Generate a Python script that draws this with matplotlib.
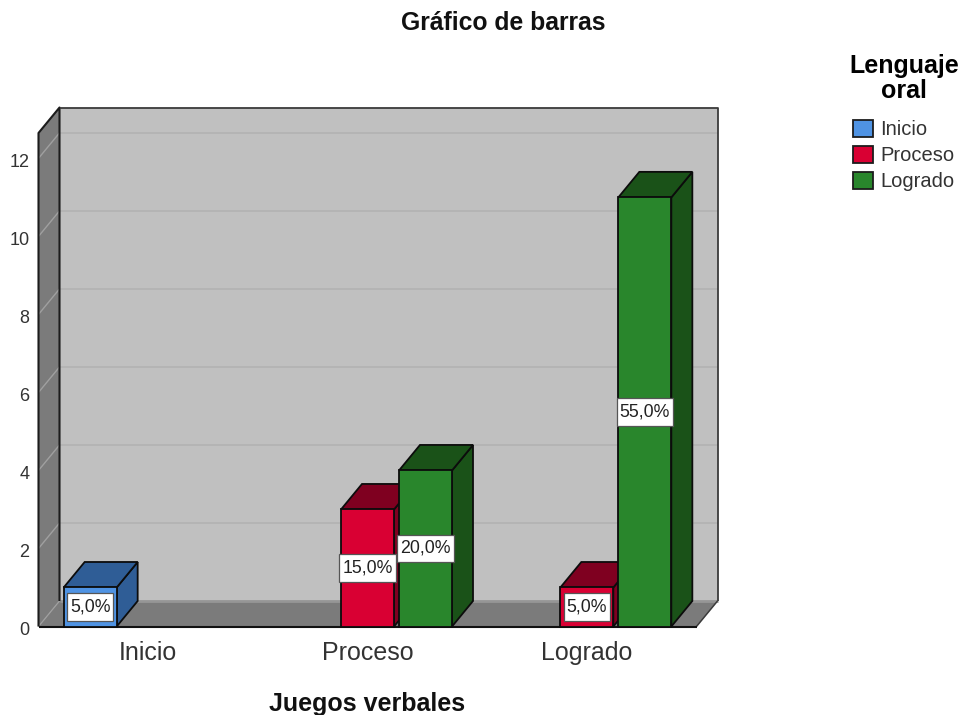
import matplotlib
matplotlib.use("Agg")
import matplotlib.pyplot as plt
from matplotlib.patches import Polygon, Patch, Rectangle
from matplotlib.transforms import ScaledTranslation

plt.rcParams['font.family'] = ['Liberation Sans', 'DejaVu Sans']

categories = ['Inicio', 'Proceso', 'Logrado']
series_names = ['Inicio', 'Proceso', 'Logrado']
counts_inicio = [1, 0, 0]
counts_proceso = [0, 3, 1]
counts_logrado = [0, 4, 11]
labels_inicio = ['5,0%', '', '']
labels_proceso = ['', '15,0%', '5,0%']
labels_logrado = ['', '20,0%', '55,0%']
y_ticks = [0, 2, 4, 6, 8, 10, 12]

front_colors = ['#4f93e3', '#d90033', '#29862c']
dark_colors = ['#2f5d96', '#7f0020', '#1a5218']
series_counts = [counts_inicio, counts_proceso, counts_logrado]
series_labels = [labels_inicio, labels_proceso, labels_logrado]

W, H = 963, 715
fig = plt.figure(figsize=(W / 100, H / 100), dpi=100, facecolor='white')
ax = fig.add_axes([38.5 / W, (H - 626.5) / H, 658 / W, 493.5 / H])
xmin, xmax = -0.5, 2.5
ymin, ymax = 0, 12.65
ax.set_xlim(xmin, xmax)
ax.set_ylim(ymin, ymax)
ax.patch.set_visible(False)
for s in ax.spines.values():
    s.set_visible(False)

px_x = 658 / (xmax - xmin)
px_y = 493.5 / (ymax - ymin)

# depth of the 3-D box, in data units
dx = 21 / px_x
dy = 25.5 / px_y
bw = 53 / px_x
step = 58 / px_x

def poly(pts, fc, ec='none', lw=0, z=1):
    ax.add_patch(Polygon(pts, closed=True, fc=fc, ec=ec, lw=lw, zorder=z, clip_on=False,
                         joinstyle='miter'))

def seg(xs, ys, c, lw, z=2):
    ax.plot(xs, ys, color=c, lw=lw, zorder=z, clip_on=False, solid_capstyle='butt')

# walls
poly([(xmin + dx, dy), (xmax + dx, dy), (xmax + dx, ymax + dy), (xmin + dx, ymax + dy)], '#c0c0c0')
poly([(xmin, 0), (xmax, 0), (xmax + dx, dy), (xmin + dx, dy)], '#7b7b7b')
poly([(xmin, 0), (xmin + dx, dy), (xmin + dx, ymax + dy), (xmin, ymax)], '#7b7b7b')

# gridlines on the walls
for v in y_ticks[1:]:
    seg([xmin, xmin + dx], [v, v + dy], '#a0a0a0', 1.0)
    seg([xmin + dx, xmax + dx], [v + dy, v + dy], '#b3b3b3', 1.3)
seg([xmin, xmin + dx], [0, dy], '#a0a0a0', 0.9)
seg([xmin + dx, xmax + dx], [dy, dy], '#969696', 2.0)

# wall outlines
seg([xmin, xmin, xmin + dx, xmin + dx], [0, ymax, ymax + dy, dy], '#1c1c1c', 1.5, 3)
seg([xmin + dx, xmax + dx, xmax + dx], [ymax + dy, ymax + dy, dy], '#3a3a3a', 1.3, 3)
seg([xmax, xmax + dx], [0, dy], '#3a3a3a', 1.1, 3)
seg([xmin, xmax], [0, 0], '#111111', 1.5, 3)

# bars, left to right, with their side and top faces
z = 5
for i, cat in enumerate(categories):
    for j, vals in enumerate(series_counts):
        v = vals[i]
        if v == 0:
            continue
        x0 = i + (j - 1) * step - bw / 2
        x1 = x0 + bw
        poly([(x1, 0), (x1 + dx, dy), (x1 + dx, v + dy), (x1, v)], dark_colors[j], '#0c0c0c', 1.3, z)
        poly([(x0, v), (x1, v), (x1 + dx, v + dy), (x0 + dx, v + dy)], dark_colors[j], '#0c0c0c', 1.3, z)
        ax.bar(x0 + bw / 2, v, width=bw, color=front_colors[j], edgecolor='#0c0c0c', linewidth=1.3,
               zorder=z, clip_on=False)
        z += 1

# value labels on white boxes sized from the measured text
renderer = fig.canvas.get_renderer()
for i in range(len(categories)):
    for j, vals in enumerate(series_counts):
        if vals[i] == 0:
            continue
        cx = i + (j - 1) * step
        cy = vals[i] / 2
        t = ax.text(cx, cy, series_labels[j][i], ha='center', va='center', fontsize=12.8,
                    color='#222222', zorder=41)
        box_w = (t.get_window_extent(renderer).width + 6) / px_x
        box_h = 27.5 / px_y
        ax.add_patch(Rectangle((cx - box_w / 2, cy - box_h / 2), box_w, box_h, fc='white',
                               ec='#555555', lw=0.9, zorder=40, clip_on=False))

ax.set_xticks(range(len(categories)))
ax.set_xticklabels(categories, fontsize=18, color='#333333')
ax.set_yticks(y_ticks)
ax.tick_params(axis='both', length=0)
ax.tick_params(axis='x', pad=10.5)
ax.tick_params(axis='y', pad=6.5, labelsize=13, labelcolor='#333333')
shift = ScaledTranslation(0, -2.3 / 100, fig.dpi_scale_trans)
for lab in ax.get_yticklabels():
    lab.set_transform(lab.get_transform() + shift)
ax.set_xlabel('Juegos verbales', fontsize=18, fontweight='bold', color='#111111', labelpad=19.5)
fig.text(503 / W, 1 - 22.5 / H, 'Gráfico de barras', fontsize=17.8, fontweight='bold', color='#111111',
         ha='center', va='center')

handles = [Patch(fc=c, ec='#1c1c1c', lw=1.3) for c in front_colors]
leg = fig.legend(handles, series_names, loc='upper left', bbox_to_anchor=(849 / W, 1 - 54 / H),
                 frameon=False, fontsize=14.5, title='Lenguaje\noral', alignment='center',
                 title_fontproperties={'size': 18, 'weight': 'bold'},
                 handlelength=0.95, handleheight=0.95, handletextpad=0.38, labelspacing=0.32,
                 borderpad=0, borderaxespad=0)
leg.get_title().set_multialignment('center')
leg.get_title().set_linespacing(1.05)
leg._legend_box.sep = 12
for t in leg.get_texts():
    t.set_color('#333333')

fig.savefig('out.png', dpi=100, facecolor='white')
